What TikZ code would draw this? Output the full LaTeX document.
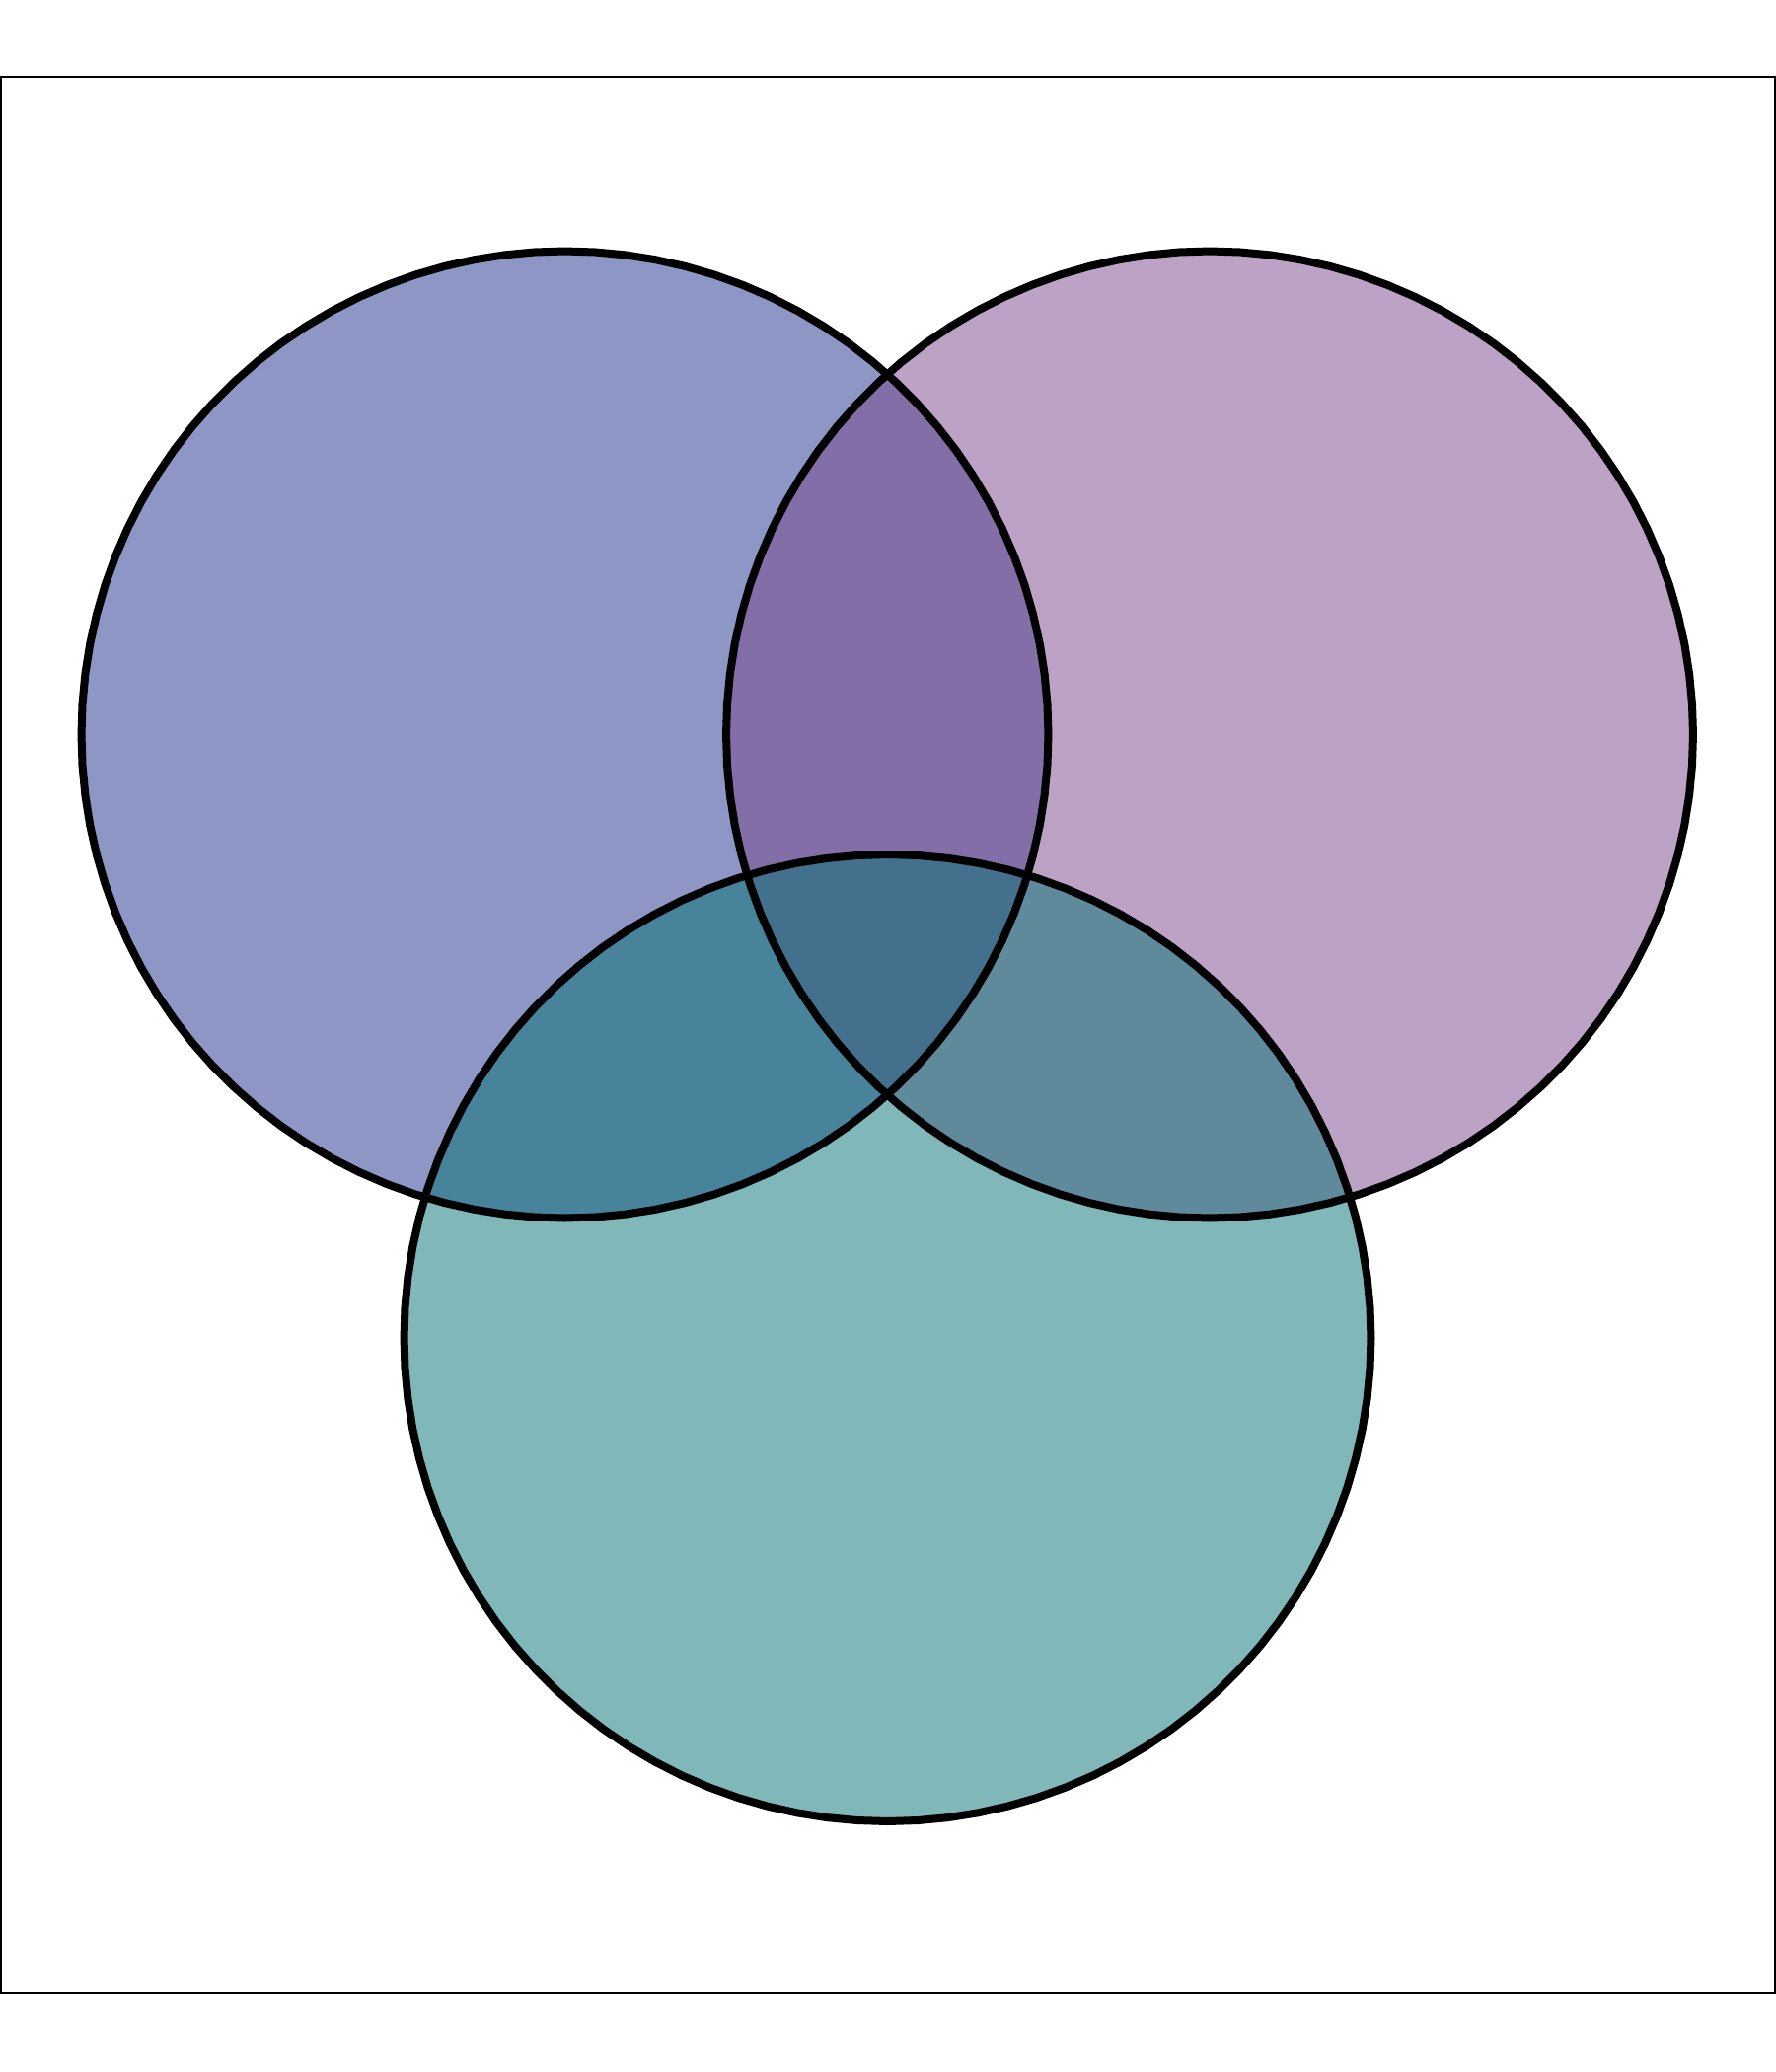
\documentclass[tikz,border=0pt]{standalone}
\usepackage{tikz}
\definecolor{setA}{RGB}{29,47,139}
\definecolor{setB}{RGB}{123,71,139}
\definecolor{setC}{RGB}{3,115,117}
\tikzset{
  setfill/.style={fill=#1, fill opacity=0.5},
  setline/.style={draw=black, line width=3.2pt, line join=round},
  frameline/.style={draw=black, line width=0.8pt}
}
\newcommand{\vennpoly}[3]{% centre x, centre y, radius
  plot[samples=101, domain=0:360, variable=\t] ({#1+#3*cos(\t)},{#2+#3*sin(\t)}) -- cycle}
\begin{document}
\begin{tikzpicture}[x=0.4pt,y=-0.4pt]
\useasboundingbox (0,0) rectangle (1800,2100);
\fill[white] (0,0) rectangle (1800,2100);
\draw[frameline] (1,78) rectangle (1799,2020);
\fill[setfill=setA] \vennpoly{572.5}{744.5}{490};
\fill[setfill=setB] \vennpoly{1226}{744.5}{490};
\fill[setfill=setC] \vennpoly{899.5}{1356}{490};
\draw[setline] \vennpoly{572.5}{744.5}{490};
\draw[setline] \vennpoly{1226}{744.5}{490};
\draw[setline] \vennpoly{899.5}{1356}{490};
\end{tikzpicture}
\end{document}
